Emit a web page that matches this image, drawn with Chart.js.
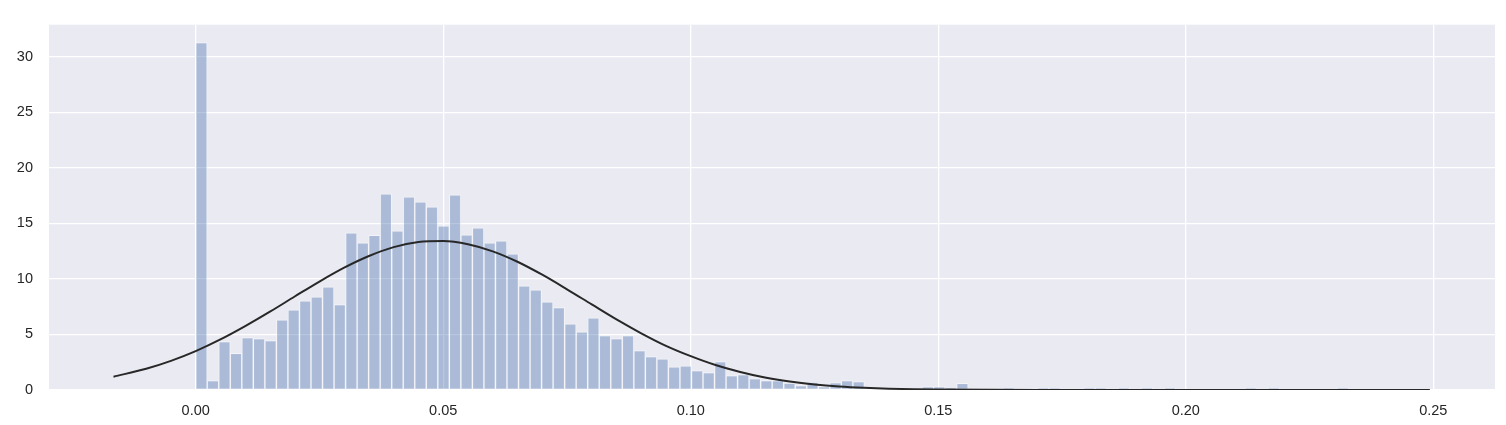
<!DOCTYPE html>
<html>
<head>
<meta charset="utf-8">
<script src="https://cdn.jsdelivr.net/npm/chart.js@4.4.1/dist/chart.umd.min.js"></script>
<style>
  body { margin: 0; background: #ffffff; }
  #distChart { display: block; }
</style>
</head>
<body>
<canvas id="distChart" width="1506" height="425"></canvas>
<script>
// histogram: 100 bins starting at 0
const BIN_START = 0;
const BIN_WIDTH = 0.002329;
const binHeights = [
  31.3, 0.84, 4.35, 3.3, 4.71, 4.62, 4.44, 6.33, 7.23, 8.04,
  8.4, 9.3, 7.7, 14.15, 13.25, 13.94, 17.66, 14.33, 17.39, 16.94,
  16.49, 14.78, 17.57, 13.97, 14.6, 13.25, 13.43, 12.26, 9.38, 9.02,
  7.94, 7.43, 5.96, 5.25, 6.5, 4.89, 4.62, 4.89, 3.54, 3.0,
  2.8, 2.08, 2.17, 1.74, 1.56, 2.55, 1.29, 1.38, 1.02, 0.84,
  0.84, 0.63, 0.39, 0.72, 0.3, 0.66, 0.84, 0.75, 0, 0,
  0, 0, 0, 0.3, 0.3, 0.18, 0.6, 0, 0, 0,
  0.15, 0, 0, 0.15, 0.15, 0, 0, 0.15, 0.15, 0,
  0.15, 0, 0.15, 0, 0.15, 0, 0, 0, 0, 0,
  0, 0.15, 0, 0.15, 0, 0, 0, 0, 0, 0.15
];

// fitted normal curve
const curveX = [
  -0.0166, -0.01, -0.005, 0, 0.005, 0.01, 0.015, 0.02, 0.025, 0.03,
  0.035, 0.04, 0.045, 0.05, 0.055, 0.06, 0.065, 0.07, 0.075, 0.08,
  0.085, 0.09, 0.095, 0.1, 0.105, 0.11, 0.115, 0.12, 0.125, 0.13,
  0.135, 0.14, 0.145, 0.15, 0.16, 0.17, 0.18, 0.2, 0.22, 0.2493
];
const curveY = [
  1.20, 1.91, 2.62, 3.50, 4.55, 5.75, 7.05, 8.42, 9.77, 11.02,
  12.07, 12.87, 13.33, 13.42, 13.13, 12.49, 11.55, 10.38, 9.07, 7.71,
  6.36, 5.11, 3.98, 3.05, 2.25, 1.62, 1.12, 0.76, 0.50, 0.32,
  0.20, 0.12, 0.07, 0.04, 0.012, 0.003, 0.001, 0, 0, 0
];

const xTicks = [0, 0.05, 0.1, 0.15, 0.2, 0.25];
const yTicks = [0, 5, 10, 15, 20, 25, 30];

const histPoints = binHeights.map((h, i) => ({ x: BIN_START + (i + 0.5) * BIN_WIDTH, y: h }));
const curvePoints = curveX.map((x, i) => ({ x, y: curveY[i] }));

const plotBackground = {
  id: "plotBackground",
  beforeDraw(chart) {
    const { ctx, chartArea } = chart;
    ctx.save();
    ctx.fillStyle = "#eaeaf2";
    ctx.fillRect(chartArea.left, chartArea.top, chartArea.right - chartArea.left, chartArea.bottom - chartArea.top);
    ctx.restore();
  }
};

const tickFont = { family: "'Liberation Sans', Arial, sans-serif", size: 14.5 };

new Chart(document.getElementById("distChart").getContext("2d"), {
  type: "bar",
  data: {
    datasets: [
      {
        type: "line",
        data: curvePoints,
        borderColor: "#282828",
        borderWidth: 2,
        pointRadius: 0,
        cubicInterpolationMode: "monotone",
        fill: false,
        order: 0
      },
      {
        type: "bar",
        data: histPoints,
        backgroundColor: "rgba(76, 114, 176, 0.4)",
        borderColor: "rgba(255, 255, 255, 0.45)",
        borderWidth: 1,
        borderSkipped: false,
        barPercentage: 1,
        categoryPercentage: 1,
        order: 1
      }
    ]
  },
  plugins: [plotBackground],
  options: {
    responsive: false,
    animation: false,
    layout: { padding: { left: 0, right: 11, top: 24, bottom: 0 } },
    plugins: {
      legend: { display: false },
      tooltip: { enabled: false }
    },
    scales: {
      x: {
        type: "linear",
        offset: false,
        min: -0.02963,
        max: 0.26246,
        afterBuildTicks: (scale) => {
          scale.ticks = xTicks.map((v) => ({ value: v }));
        },
        afterFit: (scale) => {
          scale.height = 35;
        },
        ticks: {
          color: "#262626",
          font: tickFont,
          padding: 12,
          maxRotation: 0,
          callback: (v) => Number(v).toFixed(2)
        },
        grid: { color: "#ffffff", lineWidth: 1.3, drawTicks: false, offset: false },
        border: { display: false }
      },
      y: {
        min: 0,
        max: 32.9,
        afterBuildTicks: (scale) => {
          scale.ticks = yTicks.map((v) => ({ value: v }));
        },
        afterFit: (scale) => {
          scale.width = 49;
        },
        ticks: {
          color: "#262626",
          font: tickFont,
          padding: 16
        },
        grid: { color: "#ffffff", lineWidth: 1.3, drawTicks: false },
        border: { display: false }
      }
    }
  }
});
</script>
</body>
</html>
